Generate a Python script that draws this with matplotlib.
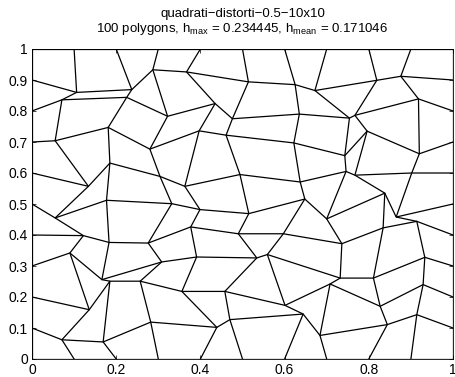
import numpy as np
import matplotlib
matplotlib.use("Agg")
import matplotlib.pyplot as plt

plt.rcParams['font.family'] = ['Liberation Sans', 'DejaVu Sans']
plt.rcParams['mathtext.fontset'] = 'custom'
plt.rcParams['mathtext.rm'] = 'Liberation Sans'

# Vertex coordinates of the distorted 10x10 quad mesh, rows j = 0 (bottom) .. 10 (top),
# each row lists i = 0 (left) .. 10 (right)
mesh_x = [
    [0.0, 0.1, 0.2, 0.3, 0.4, 0.5, 0.6, 0.7, 0.8, 0.9, 1.0],
    [0.0, 0.071, 0.169, 0.282, 0.439, 0.470, 0.644, 0.684, 0.844, 0.914, 1.0],
    [0.0, 0.136, 0.185, 0.257, 0.356, 0.458, 0.601, 0.708, 0.827, 0.929, 1.0],
    [0.0, 0.090, 0.166, 0.308, 0.391, 0.534, 0.559, 0.732, 0.811, 0.933, 1.0],
    [0.0, 0.122, 0.183, 0.276, 0.377, 0.490, 0.597, 0.736, 0.834, 0.914, 1.0],
    [0.0, 0.055, 0.177, 0.332, 0.399, 0.515, 0.648, 0.700, 0.838, 0.865, 1.0],
    [0.0, 0.134, 0.185, 0.304, 0.363, 0.494, 0.637, 0.746, 0.767, 0.902, 1.0],
    [0.0, 0.055, 0.181, 0.280, 0.397, 0.461, 0.622, 0.743, 0.796, 0.920, 1.0],
    [0.0, 0.071, 0.225, 0.322, 0.435, 0.476, 0.635, 0.754, 0.767, 0.918, 1.0],
    [0.0, 0.106, 0.237, 0.287, 0.367, 0.514, 0.625, 0.672, 0.819, 0.876, 1.0],
    [0.0, 0.1, 0.2, 0.3, 0.4, 0.5, 0.6, 0.7, 0.8, 0.9, 1.0],
]
mesh_y = [
    [0.0, 0.0, 0.0, 0.0, 0.0, 0.0, 0.0, 0.0, 0.0, 0.0, 0.0],
    [0.1, 0.062, 0.055, 0.119, 0.102, 0.127, 0.145, 0.076, 0.111, 0.143, 0.1],
    [0.2, 0.159, 0.251, 0.251, 0.218, 0.218, 0.173, 0.242, 0.170, 0.240, 0.2],
    [0.3, 0.342, 0.256, 0.313, 0.329, 0.326, 0.337, 0.261, 0.261, 0.328, 0.3],
    [0.4, 0.398, 0.376, 0.374, 0.426, 0.404, 0.404, 0.372, 0.423, 0.444, 0.4],
    [0.5, 0.455, 0.512, 0.501, 0.482, 0.469, 0.516, 0.452, 0.535, 0.458, 0.5],
    [0.6, 0.557, 0.632, 0.589, 0.557, 0.595, 0.571, 0.605, 0.593, 0.600, 0.6],
    [0.7, 0.704, 0.747, 0.677, 0.736, 0.722, 0.697, 0.656, 0.735, 0.662, 0.7],
    [0.8, 0.836, 0.844, 0.783, 0.824, 0.775, 0.790, 0.777, 0.786, 0.839, 0.8],
    [0.9, 0.860, 0.869, 0.933, 0.926, 0.894, 0.885, 0.866, 0.899, 0.912, 0.9],
    [1.0, 1.0, 1.0, 1.0, 1.0, 1.0, 1.0, 1.0, 1.0, 1.0, 1.0],
]
x_ticks = [0, 0.2, 0.4, 0.6, 0.8, 1]
x_ticklabels = ['0', '0.2', '0.4', '0.6', '0.8', '1']
y_ticks = [0, 0.1, 0.2, 0.3, 0.4, 0.5, 0.6, 0.7, 0.8, 0.9, 1]
y_ticklabels = ['0', '0.1', '0.2', '0.3', '0.4', '0.5', '0.6', '0.7', '0.8', '0.9', '1']
title_line1 = 'quadrati\u2212distorti\u22120.5\u221210x10'
title_line2 = r'100 polygons, h$_{\mathrm{max}}$ = 0.234445, h$_{\mathrm{mean}}$ = 0.171046'

X = np.array(mesh_x)
Y = np.array(mesh_y)

fig = plt.figure(figsize=(4.55, 3.77), dpi=100)
ax = fig.add_axes([32 / 455, 1 - 359 / 377, 421 / 455, 310 / 377])

for j in range(X.shape[0]):
    ax.plot(X[j, :], Y[j, :], color='black', lw=0.9, solid_joinstyle='miter')
for i in range(X.shape[1]):
    ax.plot(X[:, i], Y[:, i], color='black', lw=0.9, solid_joinstyle='miter')

ax.set_xlim(0, 1)
ax.set_ylim(0, 1)
ax.set_xticks(x_ticks)
ax.set_xticklabels(x_ticklabels)
ax.set_yticks(y_ticks)
ax.set_yticklabels(y_ticklabels)
ax.tick_params(direction='in', length=3, width=0.5, labelsize=10, top=True, right=True,
               pad=3)
for s in ax.spines.values():
    s.set_linewidth(0.6)

fig.text(242.5 / 455, 1 - 17 / 377, title_line1, ha='center', va='baseline', fontsize=9.5)
fig.text(242.5 / 455, 1 - 32 / 377, title_line2, ha='center', va='baseline', fontsize=9.5)

fig.savefig('out.png', dpi=100)
